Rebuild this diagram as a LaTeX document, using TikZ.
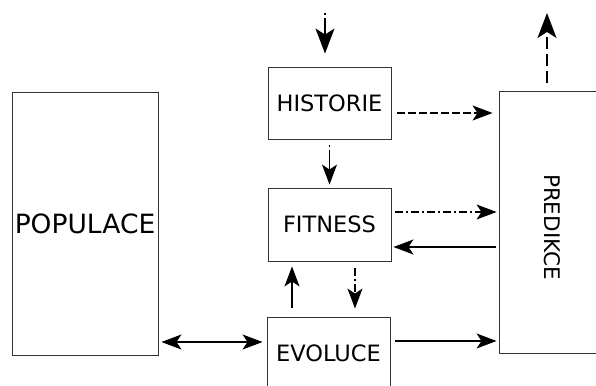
\documentclass[tikz,border=0pt]{standalone}
\usepackage{fontspec}
\setmainfont{DejaVu Sans}
\usetikzlibrary{positioning, arrows.meta}

\begin{document}
\begin{tikzpicture}[x=1pt, y=-1pt,
       bx/.style={rectangle, draw=black!80, line width=0.9pt, inner sep=0pt,
         font=\fontsize{22.5}{26}\selectfont},
       ->/.style={-{Stealth[length=20pt, width=15pt, inset=5pt]}, line width=1.3pt},
       <->/.style={{Stealth[length=20pt, width=15pt, inset=5pt]}-{Stealth[length=20pt, width=15pt, inset=5pt]}, line width=1.3pt},
       big/.style={-{Stealth[length=25pt, width=19pt, inset=6pt]}, line width=1.3pt},
       dd/.style={dash pattern=on 8pt off 3pt on 2pt off 3pt},
       ds/.style={dash pattern=on 8pt off 3pt}]
     \useasboundingbox (0,0) rectangle (596,385);
     \node[bx, minimum width=146pt, minimum height=263pt,
       font=\fontsize{26.5}{30}\selectfont] (pop) at (85,223.5) {POPULACE};
     \node[bx, minimum width=123pt, minimum height=72pt] (hist) at (329.5,103) {HISTORIE};
     \node[bx, minimum width=123pt, minimum height=73pt] (fit) at (329.5,224.5) {FITNESS};
     \node[bx, minimum width=123pt, minimum height=72pt] (evo) at (328.5,353) {EVOLUCE};
     \node[bx, minimum width=100pt, minimum height=262pt] (pred) at (549,222) {};
     \node[rotate=-90, font=\fontsize{21.5}{25}\selectfont] (predt) at (552,227) {PREDIKCE};
     \coordinate (hin) at (325,13);
     \coordinate (pout) at (547,13);
     \draw [big, dash pattern=on 2pt off 3pt on 30pt] (hin) -- ([yshift=13pt]hin |- hist.north);
     \draw [big, dash pattern=on 12pt off 5pt] ([yshift=8pt]pout |- pred.north) -- (pout);
     \draw [->, dash pattern=on 2pt off 3pt on 30pt] ([yshift=-6pt]hist.south) -- ([yshift=3pt]fit.north);
     \draw [->, ds] ([xshift=6pt,yshift=-10pt]hist.east) -- ([xshift=-6pt,yshift=-10pt]hist.east -| pred.west);
     \draw [->, dd] ([xshift=4pt,yshift=12.5pt]fit.east) -- ([xshift=-2pt,yshift=12.5pt]fit.east -| pred.west);
     \draw [->] ([xshift=-3pt,yshift=-22.5pt]fit.east -| pred.west) -- ([xshift=2pt,yshift=-22.5pt]fit.east);
     \draw [->] ([xshift=-36.5pt,yshift=9pt]evo.north) -- ([xshift=-36.5pt,yshift=-5pt]evo.north |- fit.south);
     \draw [->, dd] ([xshift=25.5pt,yshift=-7pt]fit.south) -- ([xshift=25.5pt,yshift=8pt]fit.south |- evo.north);
     \draw [->] ([xshift=5pt,yshift=12pt]evo.east) -- ([xshift=-2pt,yshift=12pt]evo.east -| pred.west);
     \draw [<->] ([xshift=3pt,yshift=11pt]pop.east |- evo.west) -- ([xshift=-4pt,yshift=11pt]evo.west);
   \end{tikzpicture}
\end{document}
